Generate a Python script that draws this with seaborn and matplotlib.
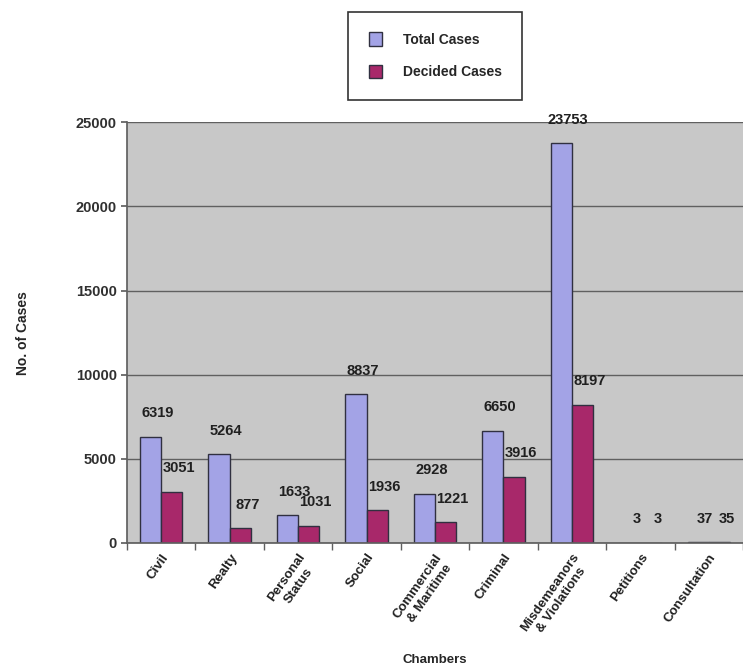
import numpy as np
import pandas as pd
import matplotlib
matplotlib.use('Agg')
import matplotlib.pyplot as plt
import seaborn as sns

# Data ------------------------------------------------------------------------

chambers = ['Civil', 'Realty', 'Personal\nStatus', 'Social',
            'Commercial\n& Maritime', 'Criminal',
            'Misdemeanors\n& Violations', 'Petitions', 'Consultation']
total_cases = [6319, 5264, 1633, 8837, 2928, 6650, 23753, 3, 37]
decided_cases = [3051, 877, 1031, 1936, 1221, 3916, 8197, 3, 35]
series = ['Total Cases', 'Decided Cases']
colors = ['#a3a3e6', '#a8286a']

df = pd.DataFrame({
    'Chamber': chambers * 2,
    'Cases': total_cases + decided_cases,
    'Series': [series[0]] * len(chambers) + [series[1]] * len(chambers),
})

# Plot ------------------------------------------------------------------------

sns.set_theme(style='white')
plt.rcParams['font.family'] = ['Liberation Sans', 'DejaVu Sans']

fig = plt.figure(figsize=(7.43, 6.72), dpi=100)
ax = fig.add_axes([0.171, 0.192, 0.829, 0.626])
ax.set_facecolor('#c8c8c8')

sns.barplot(data=df, x='Chamber', y='Cases', hue='Series', hue_order=series,
            palette=colors, width=0.62, edgecolor='#303040', linewidth=1.0,
            saturation=1, ax=ax, legend=True)

ax.set_ylim(0, 25000)
ax.set_yticks(np.arange(0, 25001, 5000))
ax.yaxis.grid(True, color='#606060', linewidth=1.0)
ax.set_axisbelow(True)

# Value labels
for cont in ax.containers:
    for bar in cont:
        h = bar.get_height()
        ax.annotate(f'{int(h)}', (bar.get_x() + bar.get_width() / 2, h),
                    xytext=(5, 12), textcoords='offset points',
                    ha='center', va='bottom', fontsize=10.5,
                    fontweight='bold', color='#202020')

for s in ['top', 'right']:
    ax.spines[s].set_visible(False)
ax.spines['left'].set_color('#606060')
ax.spines['bottom'].set_color('#606060')

ax.tick_params(axis='y', labelsize=10.5, length=4, left=True, color='#606060')
ax.tick_params(axis='x', labelsize=9.5, length=0, pad=6)
for lab in ax.get_yticklabels():
    lab.set_fontweight('bold')
    lab.set_color('#303030')

# Tick marks between the categories
ax.set_xticks(np.arange(-0.5, len(chambers), 1), minor=True)
ax.tick_params(axis='x', which='minor', length=5, color='#606060',
               bottom=True)
ax.set_xlim(-0.5, len(chambers) - 0.5)

plt.setp(ax.get_xticklabels(), rotation=55, ha='right',
         rotation_mode='anchor', fontweight='bold', color='#202020',
         multialignment='center')

ax.set_xlabel('Chambers', fontsize=9.5, fontweight='bold', labelpad=9)
ax.set_ylabel('No. of Cases', fontsize=10, fontweight='bold', labelpad=33)

leg = ax.legend(loc='center', bbox_to_anchor=(0.586, 0.917),
                bbox_transform=fig.transFigure, frameon=True, fontsize=10,
                handlelength=0.9, handleheight=1.1, labelspacing=1.3,
                borderpad=1.5, handletextpad=1.5, fancybox=False,
                edgecolor='black')
leg.get_frame().set_linewidth(1.2)
for t in leg.get_texts():
    t.set_fontweight('bold')

fig.savefig('out.png', dpi=100)
